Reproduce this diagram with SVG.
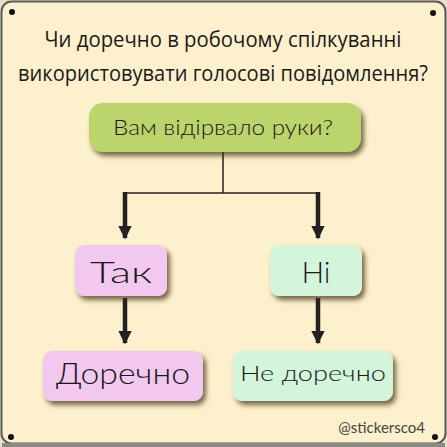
<svg xmlns="http://www.w3.org/2000/svg" width="447" height="447" viewBox="0 0 447 447">
<defs>
<filter id="sh" x="-20%" y="-30%" width="150%" height="180%">
<feDropShadow dx="3" dy="4" stdDeviation="2.5" flood-color="#3a2a10" flood-opacity="0.7"/>
</filter>
<marker id="ah" viewBox="0 0 10 10" refX="9" refY="5" markerWidth="3" markerHeight="3" orient="auto" markerUnits="strokeWidth">
<path d="M0,0 L10,5 L0,10 z" fill="#222"/>
</marker>
</defs>
<style>
.title{font-family:"Open Sans","Noto Sans",sans-serif;font-size:21px;fill:#1a1a1a;text-anchor:middle}
.lbl{font-family:"Lato","Noto Sans",sans-serif;font-weight:300;fill:#1a1a1a;text-anchor:middle}
.box{filter:url(#sh)}
.thick{stroke:#222;stroke-width:4.5;fill:none;marker-end:url(#ah)}
.dot{fill:#111}
</style>
<rect x="0" y="0" width="447" height="447" fill="#e8e0cc"/>
<rect x="1.5" y="1.5" width="444" height="442" rx="10" fill="#fdf0cc" stroke="#5a5a55" stroke-width="2"/>
<rect x="2" y="443" width="443" height="4" fill="#8a8a85"/>
<circle class="dot" cx="12" cy="12" r="3"/>
<circle class="dot" cx="433" cy="13" r="3"/>
<circle class="dot" cx="11" cy="437" r="3"/>
<circle class="dot" cx="435" cy="437" r="3"/>
<text class="title" x="223" y="47" textLength="357" lengthAdjust="spacingAndGlyphs">Чи доречно в робочому спілкуванні</text>
<text class="title" x="223" y="81" textLength="410" lengthAdjust="spacingAndGlyphs">використовувати голосові повідомлення?</text>
<g id="connectors">
<path d="M223,152 V193 M125,193 H318" stroke="#222" stroke-width="1.5" fill="none"/>
<path class="thick" d="M125,192 V238"/>
<path class="thick" d="M318,192 V238"/>
<path class="thick" d="M125,298 V343"/>
<path class="thick" d="M318,298 V343"/>
</g>
<g id="q">
<rect class="box" x="89" y="103" width="272" height="49" rx="14" fill="#bcd46c"/>
<text class="lbl" x="223" y="135" font-size="21" textLength="220" lengthAdjust="spacingAndGlyphs">Вам відірвало руки?</text>
</g>
<g id="yes">
<rect class="box" x="75" y="245" width="92" height="51" rx="9" fill="#f2c8ee"/>
<text class="lbl" x="121" y="283" font-size="30" textLength="62" lengthAdjust="spacingAndGlyphs">Так</text>
</g>
<g id="no">
<rect class="box" x="270" y="245" width="92" height="51" rx="9" fill="#d3f5da"/>
<text class="lbl" x="316" y="283" font-size="30">Ні</text>
</g>
<g id="ok">
<rect class="box" x="43" y="351" width="160" height="50" rx="9" fill="#f2c8ee"/>
<text class="lbl" x="123" y="384" font-size="30" textLength="134" lengthAdjust="spacingAndGlyphs">Доречно</text>
</g>
<g id="notok">
<rect class="box" x="233" y="351" width="160" height="50" rx="9" fill="#d3f5da"/>
<text class="lbl" x="313" y="381" font-size="22" textLength="146" lengthAdjust="spacingAndGlyphs">Не доречно</text>
</g>
<text x="425" y="433" font-family="Lato, sans-serif" font-size="15" fill="#444" text-anchor="end">@stickersco4</text>
</svg>
